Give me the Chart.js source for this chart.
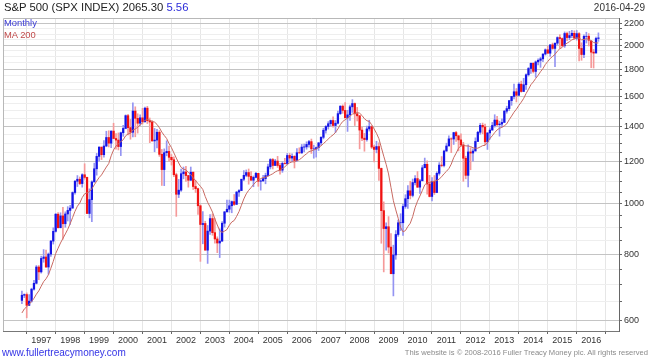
<!DOCTYPE html>
<html>
<head>
<meta charset="utf-8">
<script src="https://cdn.jsdelivr.net/npm/chart.js@4/dist/chart.umd.min.js"></script>
<style>
  html, body { margin: 0; padding: 0; background: #fff; }
  #wrap { position: relative; width: 650px; height: 363px; font-family: "Liberation Sans", Arial, sans-serif; }
  #c { position: absolute; left: 0; top: 0; }
  .t { position: absolute; white-space: nowrap; }
</style>
</head>
<body>
<div id="wrap">
  <canvas id="c" width="650" height="363"></canvas>
  <div class="t" style="left:4px;top:1px;font-size:11.3px;color:#222">S&amp;P 500 (SPX INDEX) 2065.30 <span style="color:#2b2bd9">5.56</span></div>
  <div class="t" style="right:5px;top:2px;font-size:10px;color:#333">2016-04-29</div>
  <div class="t" style="left:4px;top:17px;font-size:9.4px;color:#3b3bd6">Monthly</div>
  <div class="t" style="left:4px;top:29px;font-size:9.4px;color:#c04a4a">MA 200</div>
  <div class="t" style="left:2px;top:347px;font-size:10px;color:#3434e6">www.fullertreacymoney.com</div>
  <div class="t" style="right:2px;top:348px;font-size:7.6px;color:#8a8a8a">This website is © 2008-2016 Fuller Treacy Money plc. All rights reserved</div>
</div>
<script>
// monthly bars, first bar = May 1996, last = Apr 2016
const firstYear = 1996;
const firstMonth = 5;

const opens = [
  654, 669, 671, 640, 652, 687, 705, 757,
  741, 786, 791, 757, 801, 848, 885, 954, 899, 947, 915, 955,
  970, 980, 1049, 1102, 1112, 1091, 1134, 1121, 957, 1017, 1099, 1164,
  1229, 1280, 1238, 1286, 1335, 1302, 1373, 1329, 1320, 1283, 1363, 1389,
  1469, 1394, 1366, 1499, 1452, 1421, 1455, 1431, 1518, 1437, 1429, 1315,
  1320, 1366, 1240, 1160, 1249, 1256, 1224, 1211, 1134, 1041, 1060, 1139,
  1148, 1130, 1107, 1147, 1077, 1067, 990, 912, 916, 815, 886, 936,
  880, 856, 841, 848, 917, 964, 975, 990, 1008, 996, 1051, 1058,
  1112, 1131, 1145, 1126, 1107, 1121, 1141, 1102, 1104, 1115, 1130, 1174,
  1212, 1181, 1204, 1181, 1157, 1192, 1191, 1234, 1220, 1229, 1207, 1249,
  1248, 1280, 1281, 1295, 1311, 1270, 1270, 1277, 1304, 1336, 1378, 1401,
  1418, 1438, 1407, 1421, 1482, 1531, 1503, 1455, 1474, 1527, 1549, 1481,
  1468, 1379, 1331, 1323, 1386, 1400, 1280, 1267, 1283, 1166, 969, 896,
  903, 826, 735, 798, 873, 919, 919, 987, 1021, 1057, 1036, 1096,
  1115, 1074, 1104, 1169, 1187, 1089, 1031, 1102, 1049, 1141, 1183, 1181,
  1258, 1286, 1327, 1326, 1364, 1345, 1321, 1292, 1219, 1131, 1253, 1247,
  1258, 1312, 1366, 1408, 1398, 1310, 1362, 1379, 1407, 1441, 1412, 1416,
  1426, 1498, 1515, 1569, 1598, 1631, 1606, 1686, 1633, 1682, 1757, 1806,
  1848, 1783, 1859, 1872, 1884, 1924, 1960, 1931, 2003, 1972, 2018, 2068,
  2059, 1995, 2105, 2068, 2086, 2107, 2063, 2104, 1972, 1920, 2079, 2080,
  2038, 1940, 1932, 2060
];

const highs = [
  681, 673, 676, 671, 690, 714, 762, 762,
  794, 817, 815, 805, 851, 899, 957, 961, 960, 983, 964, 986,
  992, 1052, 1106, 1130, 1123, 1139, 1190, 1122, 1066, 1104, 1193, 1245,
  1281, 1280, 1317, 1372, 1375, 1375, 1421, 1358, 1362, 1367, 1408, 1474,
  1478, 1445, 1553, 1527, 1481, 1475, 1517, 1525, 1530, 1454, 1438, 1389,
  1384, 1376, 1267, 1270, 1316, 1286, 1239, 1226, 1142, 1111, 1163, 1173,
  1176, 1131, 1173, 1147, 1107, 1070, 994, 965, 925, 908, 952, 955,
  936, 864, 895, 924, 965, 1015, 1015, 1011, 1040, 1054, 1063, 1112,
  1155, 1158, 1163, 1150, 1128, 1146, 1141, 1109, 1131, 1142, 1188, 1217,
  1218, 1213, 1229, 1192, 1200, 1219, 1245, 1245, 1243, 1233, 1271, 1276,
  1295, 1297, 1310, 1319, 1326, 1291, 1281, 1306, 1340, 1390, 1407, 1431,
  1441, 1461, 1438, 1498, 1535, 1540, 1556, 1504, 1539, 1576, 1553, 1523,
  1471, 1396, 1359, 1404, 1440, 1405, 1292, 1313, 1304, 1168, 1007, 919,
  944, 876, 833, 888, 930, 956, 997, 1039, 1081, 1102, 1113, 1130,
  1150, 1112, 1181, 1220, 1205, 1131, 1120, 1130, 1149, 1196, 1228, 1263,
  1302, 1345, 1333, 1366, 1371, 1346, 1357, 1307, 1230, 1293, 1277, 1270,
  1333, 1372, 1420, 1422, 1415, 1363, 1392, 1426, 1475, 1465, 1434, 1448,
  1504, 1531, 1570, 1598, 1687, 1654, 1698, 1709, 1730, 1765, 1814, 1849,
  1851, 1867, 1884, 1897, 1925, 1968, 1991, 2005, 2019, 2019, 2075, 2094,
  2065, 2120, 2118, 2125, 2135, 2130, 2133, 2113, 2021, 2094, 2117, 2104,
  2039, 1963, 2073, 2111
];

const lows = [
  645, 662, 606, 639, 649, 684, 703, 716,
  737, 773, 756, 733, 793, 837, 882, 898, 899, 855, 901, 926,
  912, 979, 1041, 1077, 1086, 1074, 1112, 957, 939, 923, 1098, 1132,
  1205, 1212, 1225, 1282, 1281, 1277, 1328, 1268, 1264, 1233, 1342, 1387,
  1350, 1325, 1339, 1339, 1361, 1408, 1416, 1426, 1419, 1305, 1313, 1254,
  1275, 1229, 1082, 1081, 1232, 1203, 1183, 1124, 945, 1026, 1054, 1114,
  1101, 1074, 1106, 1063, 1049, 953, 776, 838, 815, 769, 873, 870,
  840, 806, 789, 847, 902, 963, 962, 960, 991, 996, 1031, 1058,
  1105, 1124, 1088, 1107, 1076, 1118, 1078, 1060, 1101, 1090, 1127, 1163,
  1163, 1180, 1171, 1137, 1146, 1188, 1184, 1201, 1201, 1168, 1201, 1246,
  1245, 1253, 1268, 1280, 1245, 1219, 1225, 1261, 1291, 1327, 1360, 1385,
  1403, 1396, 1364, 1416, 1476, 1484, 1454, 1371, 1439, 1490, 1407, 1435,
  1270, 1317, 1257, 1313, 1373, 1272, 1200, 1248, 1106, 840, 741, 815,
  805, 735, 667, 783, 866, 888, 869, 979, 978, 1020, 1029, 1085,
  1072, 1045, 1105, 1170, 1041, 1029, 1011, 1040, 1048, 1132, 1174, 1174,
  1257, 1289, 1249, 1295, 1312, 1259, 1283, 1102, 1114, 1075, 1159, 1203,
  1259, 1312, 1354, 1357, 1292, 1267, 1325, 1379, 1397, 1403, 1343, 1398,
  1426, 1485, 1501, 1537, 1581, 1560, 1604, 1628, 1633, 1647, 1747, 1768,
  1771, 1738, 1834, 1815, 1860, 1915, 1930, 1905, 1964, 1821, 2002, 1973,
  1988, 1981, 2040, 2048, 2068, 2056, 2045, 1867, 1872, 1893, 2019, 1993,
  1812, 1810, 1937, 2034
];

const closes = [
  669, 671, 640, 652, 687, 705, 757, 741,
  786, 791, 757, 801, 848, 885, 954, 899, 947, 915, 955, 970,
  980, 1049, 1102, 1112, 1091, 1134, 1121, 957, 1017, 1099, 1164, 1229,
  1280, 1238, 1286, 1335, 1302, 1373, 1329, 1320, 1283, 1363, 1389, 1469,
  1394, 1366, 1499, 1452, 1421, 1455, 1431, 1518, 1437, 1429, 1315, 1320,
  1366, 1240, 1160, 1249, 1256, 1224, 1211, 1134, 1041, 1060, 1139, 1148,
  1130, 1107, 1147, 1077, 1067, 990, 912, 916, 815, 886, 936, 880,
  856, 841, 848, 917, 964, 975, 990, 1008, 996, 1051, 1058, 1112,
  1131, 1145, 1126, 1107, 1121, 1141, 1102, 1104, 1115, 1130, 1174, 1212,
  1181, 1204, 1181, 1157, 1192, 1191, 1234, 1220, 1229, 1207, 1249, 1248,
  1280, 1281, 1295, 1311, 1270, 1270, 1277, 1304, 1336, 1378, 1401, 1418,
  1438, 1407, 1421, 1482, 1531, 1503, 1455, 1474, 1527, 1549, 1481, 1468,
  1379, 1331, 1323, 1386, 1400, 1280, 1267, 1283, 1166, 969, 896, 903,
  826, 735, 798, 873, 919, 919, 987, 1021, 1057, 1036, 1096, 1115,
  1074, 1104, 1169, 1187, 1089, 1031, 1102, 1049, 1141, 1183, 1181, 1258,
  1286, 1327, 1326, 1364, 1345, 1321, 1292, 1219, 1131, 1253, 1247, 1258,
  1312, 1366, 1408, 1398, 1310, 1362, 1379, 1407, 1441, 1412, 1416, 1426,
  1498, 1515, 1569, 1598, 1631, 1606, 1686, 1633, 1682, 1757, 1806, 1848,
  1783, 1859, 1872, 1884, 1924, 1960, 1931, 2003, 1972, 2018, 2068, 2059,
  1995, 2105, 2068, 2086, 2107, 2063, 2104, 1972, 1920, 2079, 2080, 2044,
  1940, 1932, 2060, 2065
];

// 200 day moving average, read per month
const ma200 = [
  619, 630, 636, 643, 651, 660, 672, 682,
  696, 710, 719, 732, 753, 776, 803, 822, 841, 858, 875, 893,
  915, 940, 966, 988, 1002, 1026, 1043, 1047, 1053, 1066, 1085, 1103,
  1120, 1133, 1153, 1173, 1191, 1232, 1264, 1286, 1298, 1311, 1322, 1345,
  1356, 1359, 1379, 1386, 1396, 1409, 1424, 1439, 1444, 1440, 1432, 1428,
  1414, 1393, 1367, 1347, 1329, 1300, 1277, 1248, 1220, 1194, 1171, 1162,
  1159, 1145, 1134, 1119, 1105, 1091, 1078, 1063, 1031, 1005, 985, 963,
  934, 910, 888, 881, 886, 892, 909, 922, 928, 945, 965, 992,
  1020, 1043, 1059, 1072, 1086, 1099, 1109, 1115, 1120, 1122, 1127, 1133,
  1139, 1148, 1154, 1156, 1165, 1174, 1186, 1195, 1200, 1200, 1206, 1211,
  1221, 1233, 1243, 1255, 1259, 1264, 1269, 1279, 1287, 1300, 1312, 1326,
  1340, 1350, 1365, 1386, 1412, 1432, 1443, 1453, 1466, 1479, 1483, 1489,
  1485, 1470, 1449, 1437, 1432, 1412, 1386, 1360, 1328, 1278, 1230, 1187,
  1138, 1073, 1012, 972, 937, 900, 883, 888, 904, 917, 944, 982,
  1010, 1033, 1058, 1085, 1095, 1096, 1100, 1102, 1106, 1113, 1124, 1139,
  1151, 1165, 1188, 1222, 1246, 1273, 1288, 1292, 1287, 1286, 1283, 1276,
  1274, 1274, 1281, 1288, 1290, 1305, 1329, 1345, 1364, 1380, 1390, 1396,
  1405, 1417, 1443, 1466, 1491, 1511, 1536, 1558, 1584, 1618, 1648, 1682,
  1703, 1729, 1753, 1781, 1805, 1838, 1862, 1887, 1904, 1921, 1949, 1969,
  1981, 2004, 2018, 2031, 2048, 2054, 2067, 2063, 2048, 2050, 2058, 2052,
  2040, 2024, 2019, 2020
];

const yearTicks = [1997, 1998, 1999, 2000, 2001, 2002, 2003, 2004, 2005, 2006,
  2007, 2008, 2009, 2010, 2011, 2012, 2013, 2014, 2015, 2016];
const priceLabels = [600, 800, 1000, 1200, 1400, 1600, 1800, 2000, 2200];
const priceMinor = [650, 700, 750, 850, 900, 950, 1050, 1100, 1150, 1250, 1300, 1350,
  1450, 1500, 1550, 1650, 1700, 1750, 1850, 1900, 1950, 2050, 2100, 2150];

const xMin = 1996.212, xMax = 2016.429;
const yMin = 572, yMax = 2253;

const upBody = '#1414e6', upWick = '#9494f2';
const dnBody = '#f01212', dnWick = '#f59a9a';

const xs = closes.map((_, i) => firstYear + (firstMonth - 1 + i) / 12);
const isUp = closes.map((c, i) => c >= opens[i]);

const font = { family: '"Liberation Sans", Arial, sans-serif', size: 9 };

const frame = {
  id: 'frame',
  beforeDatasetsDraw(chart) {
    const a = chart.chartArea, ctx = chart.ctx;
    ctx.save();
    ctx.strokeStyle = '#b8b8b8';
    ctx.lineWidth = 1;
    ctx.beginPath();
    ctx.moveTo(a.left + 0.5, a.bottom);
    ctx.lineTo(a.left + 0.5, a.top + 0.5);
    ctx.lineTo(a.right, a.top + 0.5);
    ctx.stroke();
    ctx.restore();
  }
};

new Chart(document.getElementById('c'), {
  data: {
    datasets: [
      {
        type: 'line',
        data: ma200.map((v, i) => ({ x: xs[i], y: v })),
        borderColor: '#c86a62',
        borderWidth: 1,
        pointRadius: 0,
        tension: 0,
        order: 0
      },
      {
        type: 'bar',
        data: opens.map((o, i) => ({ x: xs[i], y: [o, closes[i]] })),
        backgroundColor: isUp.map(u => u ? upBody : dnBody),
        barThickness: 1.6,
        grouped: false,
        borderWidth: 0,
        order: 1
      },
      {
        type: 'bar',
        data: highs.map((h, i) => ({ x: xs[i], y: [lows[i], h] })),
        backgroundColor: isUp.map(u => u ? upWick : dnWick),
        barThickness: 1,
        grouped: false,
        borderWidth: 0,
        order: 2
      }
    ]
  },
  options: {
    responsive: false,
    animation: false,
    layout: { padding: { left: 3, top: 18, right: 0, bottom: 18 } },
    plugins: { legend: { display: false }, tooltip: { enabled: false } },
    scales: {
      x: {
        type: 'linear',
        min: xMin,
        max: xMax,
        afterBuildTicks: s => { s.ticks = yearTicks.map(v => ({ value: v })); },
        afterFit: s => { s.height = 14; },
        ticks: { callback: v => String(v), font: font, color: '#333', padding: 1, maxRotation: 0, autoSkip: false },
        grid: { color: '#e6e6e6', tickLength: 3, tickColor: '#666' },
        border: { color: '#777' }
      },
      y: {
        type: 'logarithmic',
        position: 'right',
        min: yMin,
        max: yMax,
        afterBuildTicks: s => {
          s.ticks = priceLabels.concat(priceMinor).sort((a, b) => a - b).map(v => ({ value: v }));
        },
        afterFit: s => { s.width = 31; },
        ticks: {
          callback: v => priceLabels.includes(v) ? String(v) : '',
          font: font, color: '#333', padding: 2, autoSkip: false
        },
        grid: {
          color: c => priceLabels.includes(c.tick && c.tick.value) ? '#c4c4c4' : '#eeeeee',
          tickLength: 3,
          tickColor: '#666'
        },
        border: { color: '#666' }
      }
    }
  },
  plugins: [frame]
});
</script>
</body>
</html>
